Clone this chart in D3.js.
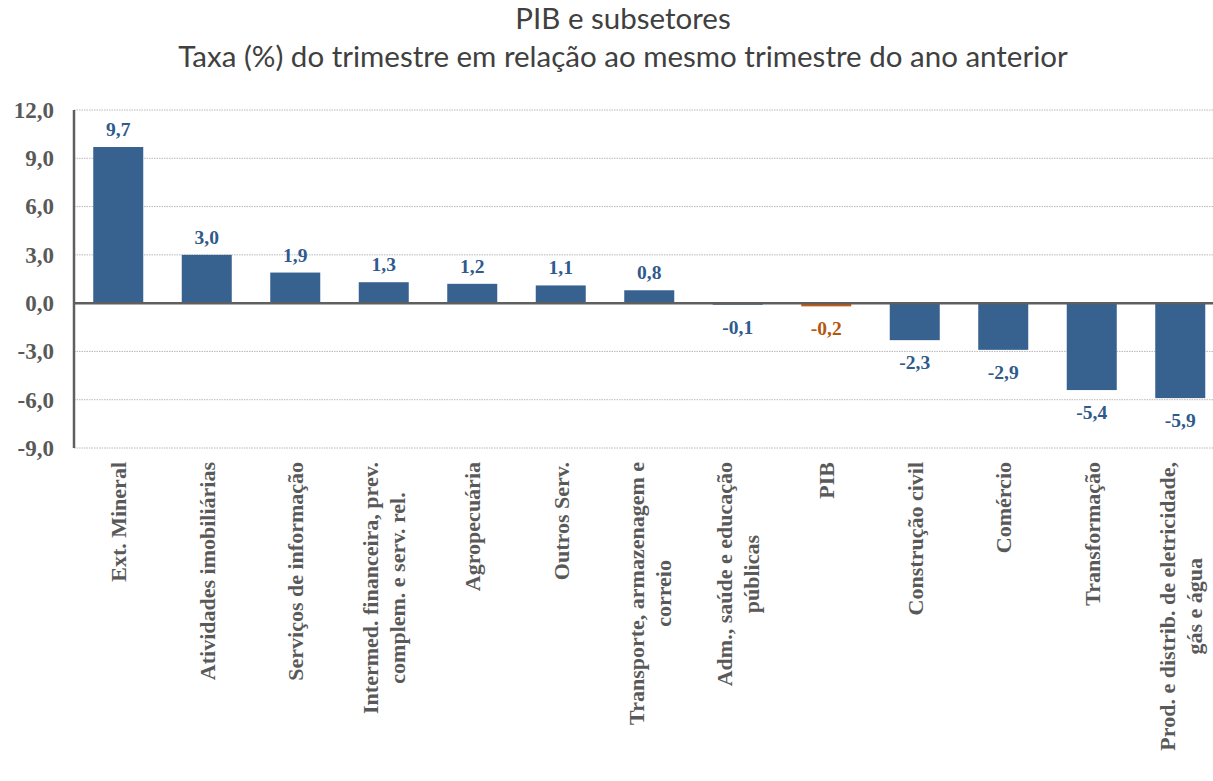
<!DOCTYPE html>
<html><head><meta charset="utf-8">
<script src="https://cdn.jsdelivr.net/npm/d3@7/dist/d3.min.js"></script>
<style>body{margin:0;background:#fff}svg{display:block}</style>
</head><body><svg id="c" width="1213" height="781"></svg>
<script>
const categories = ["Ext. Mineral","Atividades imobiliárias","Serviços de informação",
 "Intermed. financeira, prev.|complem. e serv. rel.","Agropecuária","Outros Serv.",
 "Transporte, armazenagem e|correio","Adm., saúde e educação|públicas","PIB",
 "Construção civil","Comércio","Transformação","Prod. e distrib. de eletricidade,|gás e água"];
const values = [9.7,3.0,1.9,1.3,1.2,1.1,0.8,-0.1,-0.2,-2.3,-2.9,-5.4,-5.9];
const highlight = ["PIB"];
const yTicks = [-9,-6,-3,0,3,6,9,12];
const titleLines = ["PIB e subsetores","Taxa (%) do trimestre em relação ao mesmo trimestre do ano anterior"];

const svg = d3.select("#c");
const fmt = v => v.toFixed(1).replace(".", ",");
const x = d3.scaleBand().domain(categories).range([74, 1224.5]).paddingInner(0.435).paddingOuter(0.2175);
const y = d3.scaleLinear().domain([-9, 12]).range([448, 110]);
const blue = "#37618F", orange = "#C55A11";

// title
svg.selectAll("text.title").data(titleLines).enter().append("text")
  .attr("x", 623).attr("y", (d,i)=> 29 + i*38).attr("text-anchor","middle")
  .style("font-family","Lato, 'Open Sans', sans-serif").style("font-size","29.5px").style("fill","#404040")
  .text(d=>d);

// gridlines
svg.append("g").selectAll("line").data(yTicks.filter(t=>t!==0)).enter().append("line")
  .attr("x1",74).attr("x2",1213).attr("y1",d=>y(d)).attr("y2",d=>y(d))
  .attr("stroke","#b8b8b8").attr("stroke-width",1).attr("stroke-dasharray","1.5,1");

// y axis
const yAxis = d3.axisLeft(y).tickValues(yTicks).tickSize(0).tickPadding(20).tickFormat(fmt);
const gy = svg.append("g").attr("transform","translate(74,0)").call(yAxis);
gy.select(".domain").remove();
gy.selectAll("text").style("font-family","'Liberation Serif', 'Times New Roman', serif")
  .style("font-weight","bold").style("font-size","23px").style("fill","#595959");

// bars
svg.append("g").selectAll("rect").data(values).enter().append("rect")
  .attr("x",(d,i)=>x(categories[i])).attr("width",x.bandwidth())
  .attr("y",d=>y(Math.max(0,d))).attr("height",d=>Math.abs(y(d)-y(0)))
  .attr("fill",(d,i)=>highlight.includes(categories[i])?orange:blue);

// zero line & axis line
svg.append("line").attr("x1",74).attr("x2",1213).attr("y1",y(0)).attr("y2",y(0))
  .attr("stroke","#5f5f5f").attr("stroke-width",2.5);
svg.append("line").attr("x1",74).attr("x2",74).attr("y1",y(12)).attr("y2",y(-9))
  .attr("stroke","#5f5f5f").attr("stroke-width",2.5);

// value labels
svg.append("g").selectAll("text").data(values).enter().append("text")
  .attr("x",(d,i)=>x(categories[i])+x.bandwidth()/2)
  .attr("y",d=> d>=0 ? y(d)-11 : y(d)+29)
  .attr("text-anchor","middle")
  .style("font-family","'Liberation Serif', 'Times New Roman', serif").style("font-weight","bold")
  .style("font-size","19.5px")
  .style("fill",(d,i)=>highlight.includes(categories[i])?"#B5560F":"#2F5A8C")
  .text(fmt);

// x labels
const labelTop = 462;
categories.forEach((c,i)=>{
  const lines = c.split("|");
  const cx = x(c)+x.bandwidth()/2;
  const g = svg.append("g");
  const texts = lines.map((l,j)=> g.append("text")
    .style("font-family","'Liberation Serif', 'Times New Roman', serif").style("font-weight","bold")
    .style("font-size","22px").style("fill","#595959").attr("text-anchor","middle").text(l));
  const maxW = d3.max(texts, t=>t.node().getComputedTextLength());
  const n = lines.length, lh = 27;
  texts.forEach((t,j)=>{
    const px = cx + (j-(n-1)/2)*lh + 8;
    const py = labelTop + maxW/2;
    t.attr("transform",`translate(${px},${py}) rotate(-90)`);
  });
});
</script></body></html>
